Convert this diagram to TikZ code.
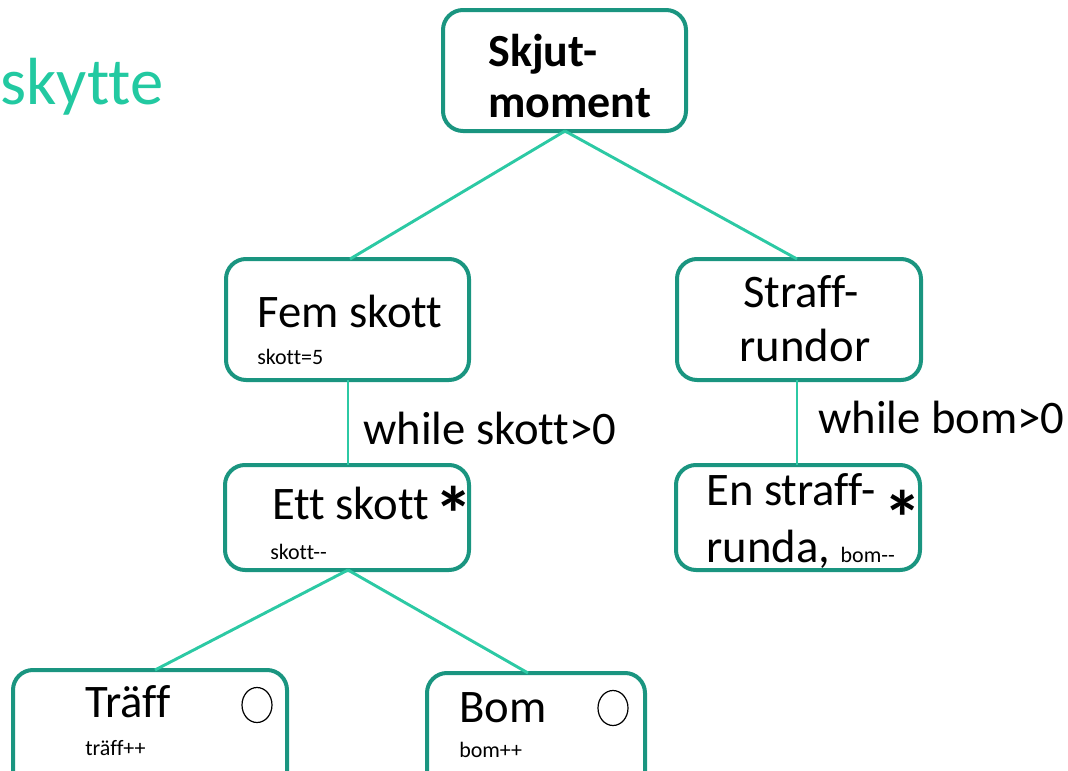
\documentclass[tikz,border=0pt]{standalone}
\usepackage{fontspec}
\setmainfont[Ligatures={NoCommon,TeXOff}]{Carlito}
\definecolor{boxline}{HTML}{1A9580}
\definecolor{link}{HTML}{2CC9A4}
\definecolor{title}{HTML}{22C9A1}
\begin{document}
\begin{tikzpicture}[x=0.75pt,y=-0.75pt,
  stepbox/.style={draw=boxline,line width=3pt,rounded corners=15pt},
  conn/.style={draw=link,line width=2.2pt},
  big/.style={font=\fontsize{35}{38}\selectfont,inner sep=0pt,anchor=base west},
  small/.style={font=\fontsize{16.5}{19}\selectfont,inner sep=0pt,anchor=base west},
  star/.style={font=\fontsize{58}{58}\selectfont\bfseries,inner sep=0pt}]
\useasboundingbox (0,0) rectangle (1068,771);
\clip (0,0) rectangle (1068,771);

% heading fragment
\node[anchor=base west,inner sep=0pt,text=title,font=\fontsize{50}{54}\selectfont] (head) at (0,104) {skytte};

% boxes
\draw[stepbox] (443,10) rectangle (686,131);
\draw[stepbox] (226,259) rectangle (469,380);
\draw[stepbox] (677,259) rectangle (921,380);
\draw[stepbox] (225,465) rectangle (469,570);
\draw[stepbox] (676,465) rectangle (920,570);
\draw[stepbox] (13,670) rectangle (287,800);
\draw[stepbox] (427,673) rectangle (645,800);

% connector end points
\coordinate (skB) at (565,131);
\coordinate (femT) at (350,259);
\coordinate (femB) at (348,380);
\coordinate (strT) at (797,259);
\coordinate (strB) at (797,380);
\coordinate (ettT) at (348,465);
\coordinate (ettB) at (348,570);
\coordinate (enT) at (797,465);
\coordinate (trT) at (155,670);
\coordinate (bomT) at (528,673);

\draw[conn] (skB) -- (femT);
\draw[conn] (skB) -- (strT);
\draw[conn] (femB) -- (ettT);
\draw[conn] (strB) -- (enT);
\draw[conn] (ettB) -- (trT);
\draw[conn] (ettB) -- (bomT);

% texts
\node[big,font=\fontsize{34.5}{36}\selectfont\bfseries] (t1) at (488,66) {Skjut-};
\node[big,font=\fontsize{34.5}{36}\selectfont\bfseries] (t2) at (488,117) {moment};

\node[big] (t3) at (257,327) {Fem skott};
\node[small] (t4) at (257,364) {skott=5};

\node[big,anchor=base] (t5) at (801,307) {Straff-};
\node[big,anchor=base] (t6) at (805,361) {rundor};

\node[big] (w1) at (363,444) {while skott>0};
\node[big] (w2) at (818,433) {while bom>0};

\node[big] (t7) at (272,519) {Ett skott};
\node[star] (s1) at (454,514) {*};
\node[small] (t8) at (270,559) {skott--};

\node[big] (t9) at (706,505) {En straff-};
\node[big] (t10) at (706,562) {runda, {\fontsize{16.5}{19}\selectfont bom--}};
\node[star] (s2) at (903,518) {*};

\node[big] (t11) at (85,717) {Träff};
\node[small] (t12) at (85,755) {träff++};
\draw[black,line width=0.9pt] (257,705) ellipse (15 and 17.5);

\node[big] (t13) at (459,722) {Bom};
\node[small] (t14) at (459,757) {bom++};
\draw[black,line width=0.9pt] (613,708) ellipse (15 and 17.5);
\end{tikzpicture}
\end{document}
